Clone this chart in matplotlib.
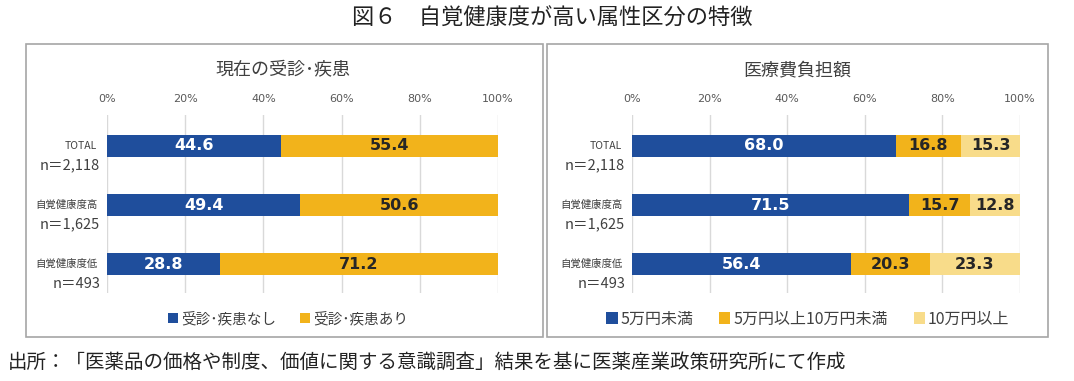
import numpy as np
import matplotlib
matplotlib.use('Agg')
import matplotlib.pyplot as plt
from matplotlib.patches import Rectangle

plt.rcParams['font.family'] = ['Noto Sans CJK JP', 'DejaVu Sans']

# data
categories = ['TOTAL', '自覚健康度高', '自覚健康度低']
n_labels = ['n＝2,118', 'n＝1,625', 'n＝493']
visit_none = [44.6, 49.4, 28.8]
visit_yes = [55.4, 50.6, 71.2]
cost_lt5 = [68.0, 71.5, 56.4]
cost_5to10 = [16.8, 15.7, 20.3]
cost_ge10 = [15.3, 12.8, 23.3]
ticks = [0, 20, 40, 60, 80, 100]

BLUE = '#1f4e9c'
GOLD = '#f2b31b'
LIGHT = '#f8dc8a'
W, H = 1074, 381

fig = plt.figure(figsize=(W / 100, H / 100), dpi=100, facecolor='white')


def px(x0, y0, x1, y1):
    """pixel box (top-left origin) -> figure fraction rect"""
    return [x0 / W, 1 - y1 / H, (x1 - x0) / W, (y1 - y0) / H]


# panel frames
for x0, x1 in [(26, 543), (547, 1048)]:
    fig.patches.append(Rectangle((x0 / W, 1 - 337 / H), (x1 - x0) / W, (337 - 44) / H,
                                 transform=fig.transFigure, fill=False,
                                 edgecolor='#a6a6a6', lw=1.2))


def draw_panel(ax, title, title_x, series, colors, names, label_colors, legend_x, legend_fs):
    y = np.arange(len(categories))
    left = np.zeros(len(categories))
    for vals, c, nm, lc in zip(series, colors, names, label_colors):
        bars = ax.barh(y, vals, left=left, height=0.38, color=c, label=nm, zorder=3)
        for b, v in zip(bars, vals):
            ax.text(b.get_x() + b.get_width() / 2, b.get_y() + b.get_height() / 2, f'{v:.1f}',
                    ha='center', va='center', color=lc, fontsize=11.5, fontweight='bold',
                    family='DejaVu Sans', zorder=4)
        left += np.array(vals)
    ax.set_xlim(0, 100)
    ax.set_ylim(2.49, -0.525)
    ax.set_xticks(ticks)
    ax.set_xticklabels([f'{t}%' for t in ticks], fontsize=8, color='#595959', family='DejaVu Sans')
    ax.xaxis.tick_top()
    ax.tick_params(axis='x', length=0, pad=8)
    ax.set_yticks([])
    ax.grid(axis='x', color='#d9d9d9', lw=1, zorder=0)
    for s in ax.spines.values():
        s.set_visible(False)
    for i, (cat, n) in enumerate(zip(categories, n_labels)):
        ax.annotate(cat, xy=(0, i), xycoords=('axes fraction', 'data'), xytext=(-7, 0),
                    textcoords='offset points', ha='right', va='center',
                    fontsize=7.5, color='#404040')
        ax.annotate(n, xy=(0, i), xycoords=('axes fraction', 'data'), xytext=(-5, -14),
                    textcoords='offset points', ha='right', va='center',
                    fontsize=10.5, color='#404040')
    fig.text(title_x / W, 1 - 70 / H, title, ha='center', va='center', fontsize=13, color='#404040')
    fig.legend(handles=ax.containers, labels=names, loc='center',
               bbox_to_anchor=(legend_x / W, 1 - 319 / H), ncol=len(names), frameon=False,
               fontsize=legend_fs, handlelength=0.7, handleheight=0.7, handletextpad=0.2,
               columnspacing=1.6, labelcolor='#404040')


ax1 = fig.add_axes(px(107, 115, 498, 293))
draw_panel(ax1, '現在の受診･疾患', 283, [visit_none, visit_yes], [BLUE, GOLD],
           ['受診･疾患なし', '受診･疾患あり'], ['white', '#262626'], 288, 10.5)

ax2 = fig.add_axes(px(632, 115, 1020, 293))
draw_panel(ax2, '医療費負担額', 797, [cost_lt5, cost_5to10, cost_ge10], [BLUE, GOLD, LIGHT],
           ['5万円未満', '5万円以上10万円未満', '10万円以上'], ['white', '#262626', '#262626'], 808, 11.5)

fig.text(552 / W, 1 - 18 / H, '図６　自覚健康度が高い属性区分の特徴', ha='center', va='center',
         fontsize=16, color='#222222')
fig.text(8 / W, 1 - 362 / H, '出所：「医薬品の価格や制度、価値に関する意識調査」結果を基に医薬産業政策研究所にて作成',
         ha='left', va='center', fontsize=14, color='#222222')

fig.savefig('out.png', dpi=100, facecolor='white')
